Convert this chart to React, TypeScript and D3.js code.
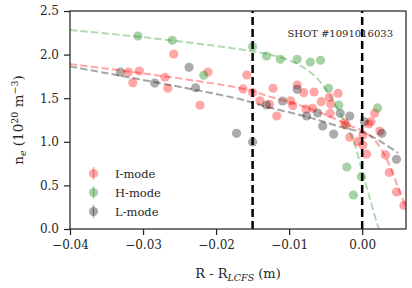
import { useEffect, useRef } from 'react';
import * as d3 from 'd3';

// measured points, [R - R_LCFS (m), n_e (1e20 m^-3)]
const iModeX = [-0.0258, -0.0320, -0.0305, -0.0314, -0.0270, -0.0266, -0.0211, -0.0222, -0.0158, -0.0163, -0.0150, -0.0122, -0.0140, -0.0127, -0.0117, -0.0098, -0.0095, -0.0089, -0.0080, -0.0066, -0.0077, -0.0068, -0.0056, -0.0033, -0.0045, -0.0043, -0.0044, -0.0024, -0.0022, -0.0017, -0.0006, 0.0001, 0.0006, 0.0001, 0.0012, 0.0017, 0.0009, 0.0024, 0.0032, 0.0037, 0.0047, 0.0057];
const iModeY = [2.007, 1.800, 1.812, 1.678, 1.740, 1.614, 1.800, 1.419, 1.766, 1.606, 1.563, 1.614, 1.471, 1.430, 1.296, 1.471, 1.414, 1.651, 1.563, 1.571, 1.376, 1.384, 1.460, 1.556, 1.510, 1.433, 1.327, 1.219, 1.193, 1.052, 1.001, 0.963, 0.860, 1.078, 1.231, 1.327, 1.204, 1.124, 0.849, 0.648, 0.424, 0.270];

const hModeX = [-0.0307, -0.0260, -0.0217, -0.0150, -0.0131, -0.0112, -0.0089, -0.0071, -0.0057, -0.0046, -0.0032, 0.0021, -0.0021, -0.0001, -0.0012];
const hModeY = [2.213, 2.164, 1.763, 2.091, 1.984, 1.946, 1.946, 1.915, 1.935, 1.614, 1.422, 1.388, 0.711, 0.600, 0.390];

const lModeX = [-0.0331, -0.0284, -0.0237, -0.0228, -0.0172, -0.0150, -0.0089, -0.0109, -0.0131, -0.0076, -0.0061, -0.0054, -0.0039, -0.0030, -0.0017, 0.0003, 0.0027, 0.0047];
const lModeY = [1.800, 1.674, 1.854, 1.620, 1.097, 0.998, 1.602, 1.468, 1.422, 1.296, 1.330, 1.181, 1.089, 1.327, 1.296, 1.231, 1.097, 0.799];

// fitted profiles
const iFitX = [-0.04, -0.0166, -0.0125, -0.0074, -0.0043, -0.0019, -0.0001, 0.0017, 0.0036, 0.0049, 0.0062];
const iFitY = [1.892, 1.614, 1.514, 1.388, 1.284, 1.193, 1.130, 1.021, 0.757, 0.482, 0.200];
const hFitX = [-0.04, -0.029, -0.018, -0.0135, -0.0105, -0.0080, -0.0062, -0.0048, -0.0034, -0.0022, -0.0011, -0.0001, 0.0010, 0.0023, 0.0026];
const hFitY = [2.282, 2.190, 2.076, 2.015, 1.950, 1.850, 1.730, 1.580, 1.380, 1.193, 0.990, 0.690, 0.367, 0.0, -0.05];
const lFitX = [-0.04, -0.0166, -0.0135, -0.0074, -0.0029, 0.0003, 0.0022, 0.0049];
const lFitY = [1.864, 1.487, 1.411, 1.284, 1.170, 1.101, 1.021, 0.872];

const separatrixLines = [-0.015, 0.0];
const xTicks = [-0.04, -0.03, -0.02, -0.01, 0.0];
const yTicks = [0.0, 0.5, 1.0, 1.5, 2.0, 2.5];

const series = [
    { name: 'I-mode', xs: iModeX, ys: iModeY, fx: iFitX, fy: iFitY, color: '#ff0000', alpha: 0.35, lineAlpha: 0.35 },
    { name: 'H-mode', xs: hModeX, ys: hModeY, fx: hFitX, fy: hFitY, color: '#008000', alpha: 0.35, lineAlpha: 0.3 },
    { name: 'L-mode', xs: lModeX, ys: lModeY, fx: lFitX, fy: lFitY, color: '#000000', alpha: 0.33, lineAlpha: 0.35 },
];

const FONT = '"DejaVu Serif", serif';
const INK = '#262626';

export default function App() {
    const svgRef = useRef<SVGSVGElement>(null);

    useEffect(() => {
        const svg = d3.select(svgRef.current);
        svg.selectAll('*').remove();

        const margin = { top: 11, right: 6, bottom: 59, left: 70 };
        const width = 412;
        const height = 288;

        const x = d3.scaleLinear().domain([-0.04, 0.006]).range([margin.left, width - margin.right]);
        const y = d3.scaleLinear().domain([0, 2.5]).range([height - margin.bottom, margin.top]);

        svg.append('defs').append('clipPath').attr('id', 'plotclip')
            .append('rect')
            .attr('x', margin.left).attr('y', margin.top)
            .attr('width', x.range()[1] - x.range()[0])
            .attr('height', y.range()[0] - y.range()[1]);

        const plot = svg.append('g').attr('clip-path', 'url(#plotclip)');

        // points
        series.forEach((s) => {
            plot.append('g')
                .selectAll('circle')
                .data(s.xs.map((v, i) => [v, s.ys[i]]))
                .join('circle')
                .attr('cx', (d) => x(d[0]))
                .attr('cy', (d) => y(d[1]))
                .attr('r', 4.6)
                .attr('fill', s.color)
                .attr('fill-opacity', s.alpha);
        });

        // fits
        const line = d3.line<number[]>().x((d) => x(d[0])).y((d) => y(d[1])).curve(d3.curveCatmullRom);
        series.forEach((s) => {
            plot.append('path')
                .attr('d', line(s.fx.map((v, i) => [v, s.fy[i]])))
                .attr('fill', 'none')
                .attr('stroke', s.color)
                .attr('stroke-opacity', s.lineAlpha)
                .attr('stroke-width', 2)
                .attr('stroke-dasharray', '7.4,3.2');
        });

        // separatrix / pedestal markers
        plot.append('g')
            .selectAll('line')
            .data(separatrixLines)
            .join('line')
            .attr('x1', (d) => x(d)).attr('x2', (d) => x(d))
            .attr('y1', y(0)).attr('y2', y(2.5))
            .attr('stroke', '#000')
            .attr('stroke-width', 2.5)
            .attr('stroke-dasharray', '8,4');

        // axes
        const xAxis = (g) => g
            .attr('transform', `translate(0,${y(0)})`)
            .call(d3.axisBottom(x).tickValues(xTicks).tickSize(6).tickPadding(5)
                .tickFormat((d) => d3.format('.2f')(d as number).replace('-', '\u2212')));
        const yAxis = (g) => g
            .attr('transform', `translate(${margin.left},0)`)
            .call(d3.axisLeft(y).tickValues(yTicks).tickSize(6).tickPadding(5).tickFormat(d3.format('.1f')));

        [svg.append('g').call(xAxis), svg.append('g').call(yAxis)].forEach((g) => {
            g.select('.domain').remove();
            g.selectAll('line').attr('stroke', INK).attr('stroke-width', 1.25);
            g.selectAll('text').attr('fill', INK).style('font-family', FONT).style('font-size', '12px');
        });

        // frame
        svg.append('rect')
            .attr('x', margin.left).attr('y', margin.top)
            .attr('width', x.range()[1] - x.range()[0])
            .attr('height', y.range()[0] - y.range()[1])
            .attr('fill', 'none')
            .attr('stroke', INK)
            .attr('stroke-width', 1.25);

        // shot label
        svg.append('text')
            .attr('x', 393).attr('y', 37)
            .attr('text-anchor', 'end')
            .style('font-family', FONT).style('font-size', '10px')
            .attr('fill', INK)
            .text('SHOT #1091016033');

        // axis labels
        const xl = svg.append('text')
            .attr('x', (x.range()[0] + x.range()[1]) / 2).attr('y', 278)
            .attr('text-anchor', 'middle')
            .style('font-family', FONT).style('font-size', '13px')
            .attr('fill', INK);
        xl.append('tspan').text('R - R');
        xl.append('tspan').attr('font-style', 'italic').attr('font-size', '9.5px').attr('dy', 3).text('LCFS');
        xl.append('tspan').attr('dy', -3).text(' (m)');

        const yl = svg.append('text')
            .attr('transform', `translate(23,${(y.range()[0] + y.range()[1]) / 2}) rotate(-90)`)
            .attr('text-anchor', 'middle')
            .style('font-family', FONT).style('font-size', '13.5px')
            .attr('fill', INK);
        yl.append('tspan').text('n');
        yl.append('tspan').attr('font-style', 'italic').attr('font-size', '9.5px').attr('dy', 3).text('e');
        yl.append('tspan').attr('dy', -3).text(' (10');
        yl.append('tspan').attr('font-size', '9.5px').attr('dy', -5).text('20');
        yl.append('tspan').attr('dy', 5).text(' m');
        yl.append('tspan').attr('font-size', '9.5px').attr('dy', -5).text('\u22123');
        yl.append('tspan').attr('dy', 5).text(')');

        // legend
        const legend = svg.append('g');
        series.forEach((s, i) => {
            const cy = 173.5 + i * 19;
            legend.append('line')
                .attr('x1', 93.5).attr('x2', 93.5)
                .attr('y1', cy - 6.5).attr('y2', cy + 6.5)
                .attr('stroke', s.color).attr('stroke-opacity', s.alpha).attr('stroke-width', 1.5);
            legend.append('circle')
                .attr('cx', 93.5).attr('cy', cy).attr('r', 4.6)
                .attr('fill', s.color).attr('fill-opacity', s.alpha);
            legend.append('text')
                .attr('x', 115).attr('y', cy + 4)
                .style('font-family', FONT).style('font-size', '11.5px')
                .attr('fill', INK)
                .text(s.name);
        });
    }, []);

    return (
        <svg ref={svgRef} width={412} height={288} style={{ position: 'absolute', left: 0, top: 0, background: '#fff' }} />
    );
}
